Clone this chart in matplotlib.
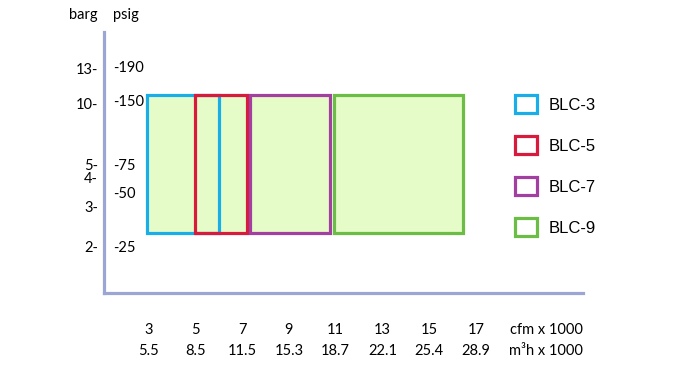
"""
Blower operating ranges (BLC series): flow vs. discharge pressure.
Writes out.png (690x376).
"""
import numpy as np
import matplotlib
matplotlib.use("Agg")
import matplotlib.pyplot as plt
from matplotlib.patches import Rectangle, Patch

# --- data ---
models = ["BLC-3", "BLC-5", "BLC-7", "BLC-9"]
flow_min = [2.95, 4.97, 7.33, 10.93]     # cfm x 1000
flow_max = [6.03, 7.2, 10.77, 16.43]
p_min = 32    # psig, common to all models
p_max = 158

cfm_ticks = [3, 5, 7, 9, 11, 13, 15, 17]
m3h_ticks = ["5.5", "8.5", "11.5", "15.3", "18.7", "22.1", "25.4", "28.9"]

psig_ticks = [25, 50, 75, 150, 190]
barg_ticks = [2, 3, 4, 5, 10, 13]

# the pressure axis in the original is schematic (not linear), so the
# label heights are layout; pressures are mapped through the psig labels
psig_h = [44.7, 98.7, 126.7, 190.7, 224.7]
barg_h = [44.7, 84.7, 113.7, 126.7, 187.7, 222.7]

colors = ["#19aee8", "#d81b3c", "#a23fa0", "#6cbd45"]
FILL = "#e5fcc9"
AXC = "#9ba6d5"
FONT = ["Lato", "DejaVu Sans"]


def to_h(p):
    return np.interp(p, psig_ticks, psig_h)


fig = plt.figure(figsize=(6.9, 3.76), dpi=100)
ax = fig.add_axes([104.3 / 690, (376 - 292.7) / 376,
                   (582.7 - 104.3) / 690, (292.7 - 32) / 376])
ax.set_xlim(3 + (104.3 - 148.5) / 23.4, 3 + (582.7 - 148.5) / 23.4)
ax.set_ylim(0, 260.7)

for s in ["top", "right"]:
    ax.spines[s].set_visible(False)
for s in ["left", "bottom"]:
    ax.spines[s].set_color(AXC)
    ax.spines[s].set_linewidth(2.3)
ax.set_xticks([])
ax.set_yticks([])

y0, y1 = to_h(p_min), to_h(p_max)
# fills first, outlines on top so overlapping edges stay visible
for lo, hi in zip(flow_min, flow_max):
    ax.add_patch(Rectangle((lo, y0), hi - lo, y1 - y0, facecolor=FILL,
                           edgecolor="none", zorder=1))
for i, (lo, hi, c) in enumerate(zip(flow_min, flow_max, colors)):
    ax.add_patch(Rectangle((lo, y0), hi - lo, y1 - y0, facecolor="none",
                           edgecolor=c, linewidth=2.3, zorder=2 + i))

# pressure labels on both sides of the axis line
ytr = ax.get_yaxis_transform()
for b, h in zip(barg_ticks, barg_h):
    ax.text(-0.013, h, f"{b}-", transform=ytr, ha="right", va="center",
            fontsize=10.5, family=FONT, clip_on=False)
for p, h in zip(psig_ticks, psig_h):
    ax.text(0.018, h, f"-{p}", transform=ytr, ha="left", va="center",
            fontsize=10.5, family=FONT, clip_on=False)
ax.text(-0.013, 1.04, "barg", transform=ax.transAxes, ha="right",
        va="bottom", fontsize=10.5, family=FONT)
ax.text(0.018, 1.04, "psig", transform=ax.transAxes, ha="left",
        va="bottom", fontsize=10.5, family=FONT)

# flow labels
xtr = ax.get_xaxis_transform()
for c, m in zip(cfm_ticks, m3h_ticks):
    ax.text(c, -0.142, str(c), transform=xtr, ha="center", va="center",
            fontsize=10.5, family=FONT, clip_on=False)
    ax.text(c, -0.2225, m, transform=xtr, ha="center", va="center",
            fontsize=10.5, family=FONT, clip_on=False)
ax.text(1.0, -0.142, "cfm x 1000", transform=ax.transAxes, ha="right",
        va="center", fontsize=10.5, family=FONT)
ax.text(1.0, -0.2225, "m³h x 1000", transform=ax.transAxes, ha="right",
        va="center", fontsize=10.5, family=FONT)

handles = [Patch(facecolor="white", edgecolor=c, linewidth=2.3) for c in colors]
fig.legend(handles, models, loc="upper left",
           bbox_to_anchor=(515 / 690, 1 - 95.5 / 376),
           frameon=False, borderpad=0, borderaxespad=0,
           prop={"family": ["Liberation Sans", "DejaVu Sans"], "size": 12},
           handlelength=1.32, handleheight=1.2, labelspacing=1.43,
           handletextpad=0.72)

fig.savefig("out.png", dpi=100)
